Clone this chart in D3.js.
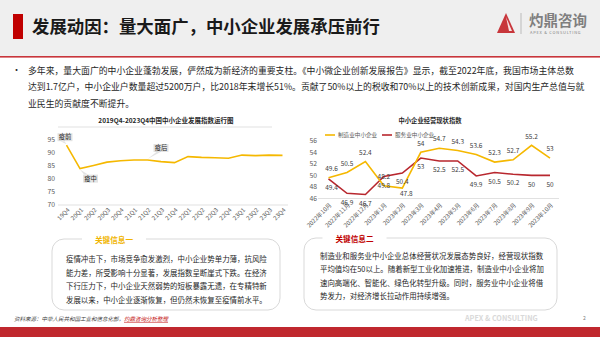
<!DOCTYPE html>
<html><head><meta charset="utf-8">
<script src="https://cdn.jsdelivr.net/npm/d3@7"></script>
<style>
body{margin:0;background:#fff;}
svg{display:block;font-family:"Noto Sans CJK SC","Noto Sans",sans-serif;}
</style>
</head><body>
<svg id="c" width="600" height="337"></svg>
<script>
// ---------- data ----------
const quarters = ["19Q4","20Q1","20Q2","20Q3","20Q4","21Q1","21Q2","21Q3","21Q4","22Q1","22Q2","22Q3","22Q4","23Q1","23Q2","23Q3","23Q4"];
const devIndex = [93.0,84.0,85.2,86.5,87.0,87.3,87.3,86.7,86.3,88.6,88.3,88.2,88.0,89.2,89.0,89.2,89.1];
const devTicks = [70,75,80,85,90,95];
const phaseNotes = [{q:"19Q4",text:"疫前"},{q:"20Q1",text:"疫中"},{q:"21Q2",text:"疫后"}];

const months = ["2022年10月","2022年11月","2022年12月","2023年1月","2023年2月","2023年3月","2023年4月","2023年5月","2023年6月","2023年7月","2023年8月","2023年9月","2023年10月"];
const mfgIndex = [49.6,50.5,52.4,48.2,47.8,54,54.7,54.3,53.6,52.3,52.7,55.2,53];
const svcIndex = [49.4,46.9,46.7,49.8,50.4,53,52.5,52.5,49.9,50.5,50.2,50,50];
const bizTicks = [46,48,50,52,54,56];
const seriesNames = ["制造业中小企业","服务业中小企业"];

const headTitle = "发展动因：量大面广，中小企业发展承压前行";
const bulletLines = [
  "多年来，量大面广的中小企业蓬勃发展，俨然成为新经济的重要支柱。《中小微企业创新发展报告》显示，截至2022年底，我国市场主体总数",
  "达到1.7亿户，中小企业户数量超过5200万户，比2018年末增长51%。贡献了50%以上的税收和70%以上的技术创新成果，对国内生产总值与就",
  "业民生的贡献度不断提升。"
];
const box1Title = "关键信息一";
const box1Lines = [
  "疫情冲击下，市场竞争愈发激烈，中小企业势单力薄，抗风险",
  "能力差，所受影响十分显著，发展指数呈断崖式下跌。在经济",
  "下行压力下，中小企业天然弱势的短板暴露无遗，在专精特新",
  "发展以来，中小企业逐渐恢复，但仍然未恢复至疫情前水平。"
];
const box2Title = "关键信息二";
const box2Lines = [
  "制造业和服务业中小企业总体经营状况发展态势良好，经营现状指数",
  "平均值均在50以上。随着新型工业化加速推进，制造业中小企业将加",
  "速向高端化、智能化、绿色化转型升级。同时，服务业中小企业将借",
  "势发力，对经济增长拉动作用持续增强。"
];

// ---------- drawing ----------
const svg = d3.select("#c");
const YEL = "#f5b800", RED = "#b8272e", TXT = "#262626", AX = "#595959", GRID = "#d9d9d9";

// header
svg.append("rect").attr("x",0).attr("y",0).attr("width",600).attr("height",56).attr("fill","#efefef");
svg.append("rect").attr("x",0).attr("y",56).attr("width",600).attr("height",1.6).attr("fill","#c8363b");
svg.append("rect").attr("x",13).attr("y",14).attr("width",10).attr("height",25).attr("fill","#c00000");
svg.append("text").attr("x",32).attr("y",33).attr("font-size",17.4).attr("font-weight","bold").attr("fill","#1a1a1a").text(headTitle);
// logo
svg.append("path").attr("d","M497,33 L506,13 L515,33 Z").attr("fill","#c8363b");
svg.append("path").attr("d","M506,17 L509,31 L512,31 Z").attr("fill","#ffffff").attr("opacity",0.85);
svg.append("line").attr("x1",521).attr("x2",521).attr("y1",13).attr("y2",34).attr("stroke","#a6a6a6").attr("stroke-width",0.7);
svg.append("text").attr("x",529).attr("y",26).attr("font-size",14.5).attr("font-weight","bold").attr("fill","#7f7f7f").text("灼鼎咨询");
svg.append("text").attr("x",530).attr("y",33.5).attr("font-size",4).attr("letter-spacing",0.75).attr("fill","#7f7f7f").text("APEX & CONSULTING");

// bullet
svg.append("text").attr("x",12).attr("y",73).attr("font-size",9).attr("fill",TXT).text("•");
svg.append("g").selectAll("text").data(bulletLines).join("text")
  .attr("x",28).attr("y",(d,i)=>73.5+i*16.5).attr("font-size",8.85).attr("fill",TXT).text(d=>d);

// ---------- left chart ----------
const xL = d3.scalePoint().domain(quarters).range([66.5,282.5]);
const yL = d3.scaleLinear().domain([70,100]).range([205,127]);
svg.append("text").attr("x",166).attr("y",123).attr("text-anchor","middle").attr("font-size",6.5).attr("font-weight","bold").attr("fill",TXT)
  .text("2019Q4-2023Q4中国中小企业发展指数运行图");
svg.append("line").attr("x1",58).attr("x2",272).attr("y1",yL(100)).attr("y2",yL(100)).attr("stroke",GRID).attr("stroke-width",0.8);
svg.append("line").attr("x1",58).attr("x2",288).attr("y1",yL(70)).attr("y2",yL(70)).attr("stroke",GRID).attr("stroke-width",0.8);
svg.append("g").selectAll("text").data(devTicks).join("text")
  .attr("x",55).attr("y",d=>yL(d)).attr("dy","0.35em").attr("text-anchor","end").attr("font-size",6.8).attr("fill",AX).text(d=>d);
svg.append("g").selectAll("text").data(quarters).join("text")
  .attr("transform",d=>`translate(${xL(d)+2},${209}) rotate(-45)`).attr("text-anchor","end").attr("dy","0.35em")
  .attr("font-size",6).attr("fill",AX).text(d=>d);
svg.append("path").datum(devIndex).attr("fill","none").attr("stroke",YEL).attr("stroke-width",1.6)
  .attr("d",d3.line().x((d,i)=>xL(quarters[i])).y(d=>yL(d)));
// phase callouts
const noteOff = {"疫前":[-6,-8,"up"],"疫中":[6,10,"down"],"疫后":[9,-12,"up"]};
phaseNotes.forEach(n=>{
  const i = quarters.indexOf(n.q);
  const px = xL(n.q), py = yL(devIndex[i]);
  const o = noteOff[n.text];
  const w = 15, h = 8;
  const bx = px + o[0] - 3, by = py + o[1] - h/2;
  const g = svg.append("g");
  // pointer
  if (o[2]==="up") {
    g.append("path").attr("d",`M${bx+3},${by+h} L${px},${py-1} L${bx+7},${by+h} Z`).attr("fill","#e3e3e3");
  } else {
    g.append("path").attr("d",`M${bx+1},${by} L${px},${py+1} L${bx+5},${by} Z`).attr("fill","#e3e3e3");
  }
  g.append("rect").attr("x",bx).attr("y",by).attr("width",w).attr("height",h).attr("fill","#e3e3e3");
  g.append("text").attr("x",bx+w/2).attr("y",by+h/2).attr("dy","0.36em").attr("text-anchor","middle")
    .attr("font-size",6.3).attr("fill",TXT).text(n.text);
});

// ---------- right chart ----------
const xR = d3.scalePoint().domain(months).range([328.5,550]);
const yR = d3.scaleLinear().domain([46,56]).range([198.5,140.7]);
svg.append("text").attr("x",430).attr("y",123).attr("text-anchor","middle").attr("font-size",6.3).attr("font-weight","bold").attr("fill",TXT)
  .text("中小企业经营现状指数");
svg.append("line").attr("x1",318).attr("x2",559).attr("y1",yR(46)).attr("y2",yR(46)).attr("stroke",GRID).attr("stroke-width",0.8);
svg.append("g").selectAll("text").data(bizTicks).join("text")
  .attr("x",317).attr("y",d=>yR(d)).attr("dy","0.35em").attr("text-anchor","end").attr("font-size",6.8).attr("fill",AX).text(d=>d);
svg.append("g").selectAll("text").data(months).join("text")
  .attr("transform",d=>`translate(${xR(d)+2},${204}) rotate(-45)`).attr("text-anchor","end").attr("dy","0.35em")
  .attr("font-size",6).attr("fill",AX).text(d=>d);
const lineR = d3.line().x((d,i)=>xR(months[i])).y(d=>yR(d));
svg.append("path").datum(svcIndex).attr("fill","none").attr("stroke",RED).attr("stroke-width",1.6).attr("d",lineR);
svg.append("path").datum(mfgIndex).attr("fill","none").attr("stroke",YEL).attr("stroke-width",1.6).attr("d",lineR);
// labels
svg.append("g").selectAll("text").data(mfgIndex).join("text")
  .attr("x",(d,i)=>xR(months[i]) + (months[i]==="2023年2月"?4:(i===0?3:0)))
  .attr("y",(d,i)=>yR(d) + (months[i]==="2023年2月"?6:-9))
  .attr("dy","0.35em").attr("text-anchor","middle").attr("font-size",6.5).attr("fill","#404040").text(d=>d);
svg.append("g").selectAll("text").data(svcIndex).join("text")
  .attr("x",(d,i)=>xR(months[i]) + (i===0?3:0))
  .attr("y",(d,i)=>yR(d) + 9)
  .attr("dy","0.35em").attr("text-anchor","middle").attr("font-size",6.5).attr("fill","#404040").text(d=>d);
// legend
const leg = svg.append("g");
[[YEL,325,338],[RED,382,395]].forEach((c,i)=>{
  leg.append("line").attr("x1",c[1]).attr("x2",c[1]+10).attr("y1",135).attr("y2",135).attr("stroke",c[0]).attr("stroke-width",1.6);
  leg.append("text").attr("x",c[2]).attr("y",135).attr("dy","0.35em").attr("font-size",5.6).attr("fill",AX).text(seriesNames[i]);
});

// ---------- info boxes ----------
function infoBox(x,y,w,h,title,tcx,tcolor,lines,tx,ty0,lh){
  const g = svg.append("g");
  g.append("rect").attr("x",x).attr("y",y).attr("width",w).attr("height",h).attr("rx",12).attr("ry",12)
    .attr("fill","#fff").attr("stroke","#d9d9d9").attr("stroke-width",1);
  g.append("rect").attr("x",tcx-32).attr("y",y-3).attr("width",64).attr("height",6).attr("fill","#fff");
  g.append("text").attr("x",tcx).attr("y",y+1).attr("dy","0.35em").attr("text-anchor","middle").attr("font-size",7.6)
    .attr("font-weight","bold").attr("fill",tcolor).text(title);
  g.selectAll("text.l").data(lines).join("text").attr("class","l")
    .attr("x",tx).attr("y",(d,i)=>ty0+i*lh).attr("dy","0.35em").attr("font-size",7.45).attr("fill",TXT).text(d=>d);
}
infoBox(52,239,228,71,box1Title,114,"#f0b400",box1Lines,66,259.3,13.6);
infoBox(304,238,253,72,box2Title,354.5,"#c00000",box2Lines,320,256,13.5);

// ---------- footer ----------
const src = svg.append("text").attr("x",14).attr("y",319).attr("dy","0.35em").attr("font-size",5.5).attr("font-style","italic").attr("fill","#404040");
src.append("tspan").text("资料来源：中华人民共和国工业和信息化部，");
src.append("tspan").attr("fill","#c00000").attr("text-decoration","underline").text("灼鼎咨询分析整理");
svg.append("text").attr("x",465).attr("y",318).attr("dy","0.35em").attr("font-size",7.2).attr("font-weight","bold").attr("fill","#d9d9d9").text("APEX & CONSULTING");
svg.append("text").attr("x",583).attr("y",318).attr("dy","0.35em").attr("font-size",5).attr("fill","#808080").text("2");
svg.append("rect").attr("x",0).attr("y",327).attr("width",600).attr("height",10).attr("fill","#c0282e");
</script>
</body></html>
